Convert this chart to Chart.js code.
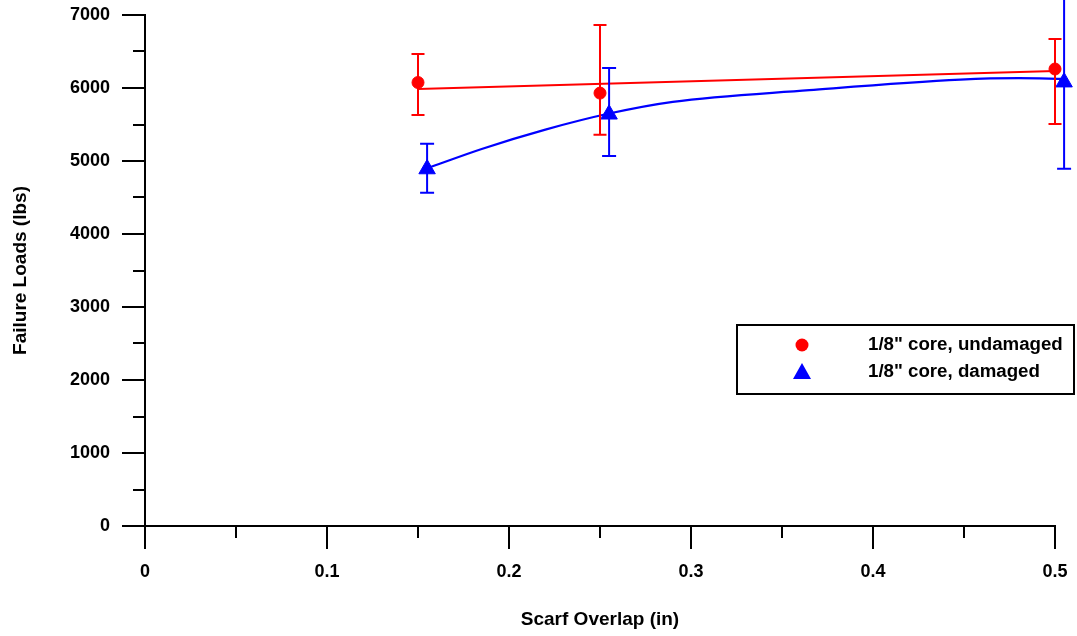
<!DOCTYPE html>
<html>
<head>
<meta charset="utf-8">
<script src="https://cdn.jsdelivr.net/npm/chart.js@4"></script>
<style>
  html, body { margin: 0; padding: 0; background: #ffffff; }
  #chart { display: block; }
</style>
</head>
<body>
<canvas id="chart" width="1077" height="636"></canvas>
<script>
// Scarf overlap vs failure load, 1/8" core
const undamagedX = [0.15, 0.25, 0.5];
const undamagedY = [6075, 5930, 6260];
const undamagedHigh = [6466, 6863, 6671];
const undamagedLow = [5630, 5360, 5507];

const damagedX = [0.155, 0.255, 0.505];
const damagedY = [4890, 5640, 6080];
const damagedHigh = [5235, 6275, 7400];
const damagedLow = [4566, 5068, 4895];

// fit curves
const undamagedFitX = [0.15, 0.5];
const undamagedFitY = [5986, 6233];
const damagedFitX = [0.155, 0.185, 0.22, 0.255, 0.29, 0.365, 0.448, 0.48, 0.505];
const damagedFitY = [4900, 5165, 5430, 5650, 5810, 5970, 6115, 6135, 6125];

const legendLabels = ['1/8" core, undamaged', '1/8" core, damaged'];
const xTitle = 'Scarf Overlap (in)';
const yTitle = 'Failure Loads (lbs)';

const RED = '#ff0000';
const BLUE = '#0000ff';
const FONT = "'Liberation Sans', Arial, sans-serif";

const toPoints = (xs, ys) => xs.map((x, i) => ({ x: x, y: ys[i] }));

// drop the label overhang padding so the plot box sits where the reference has it
function fixScale(scale, size) {
  if (scale.isHorizontal()) scale.height = size;
  else scale.width = size;
  scale.paddingTop = 0;
  scale.paddingBottom = 0;
  scale.paddingLeft = 0;
  scale.paddingRight = 0;
}

// error bars, minor/major ticks and the boxed legend
const extrasPlugin = {
  id: 'extras',
  afterDatasetsDraw(chart) {
    const ctx = chart.ctx;
    const xs = chart.scales.x;
    const ys = chart.scales.y;

    const bars = [
      { xv: undamagedX, lo: undamagedLow, hi: undamagedHigh, color: RED, cap: 6.5 },
      { xv: damagedX, lo: damagedLow, hi: damagedHigh, color: BLUE, cap: 7 }
    ];
    ctx.save();
    ctx.lineWidth = 2;
    bars.forEach(b => {
      ctx.strokeStyle = b.color;
      b.xv.forEach((xv, i) => {
        const px = xs.getPixelForValue(xv);
        const pLo = ys.getPixelForValue(b.lo[i]);
        const pHi = ys.getPixelForValue(b.hi[i]);
        ctx.beginPath();
        ctx.moveTo(px, pLo);
        ctx.lineTo(px, pHi);
        ctx.moveTo(px - b.cap, pLo);
        ctx.lineTo(px + b.cap, pLo);
        ctx.moveTo(px - b.cap, pHi);
        ctx.lineTo(px + b.cap, pHi);
        ctx.stroke();
      });
    });
    ctx.restore();
  },
  afterDraw(chart) {
    const ctx = chart.ctx;
    const xs = chart.scales.x;
    const ys = chart.scales.y;
    const area = chart.chartArea;

    ctx.save();
    ctx.strokeStyle = '#000000';
    ctx.lineWidth = 2;
    ctx.beginPath();
    for (let v = 0; v <= 7000; v += 500) {
      const py = Math.round(ys.getPixelForValue(v));
      const len = v % 1000 === 0 ? 23 : 12;
      ctx.moveTo(area.left - len, py);
      ctx.lineTo(area.left, py);
    }
    for (let k = 0; k <= 10; k++) {
      const px = Math.round(xs.getPixelForValue(k * 0.05));
      const len = k % 2 === 0 ? 23 : 12;
      ctx.moveTo(px, area.bottom);
      ctx.lineTo(px, area.bottom + len);
    }
    ctx.stroke();

    // legend box
    ctx.lineWidth = 2;
    ctx.strokeRect(737, 325, 337, 69);
    ctx.fillStyle = RED;
    ctx.beginPath();
    ctx.arc(802, 345, 6.5, 0, Math.PI * 2);
    ctx.fill();
    ctx.fillStyle = BLUE;
    ctx.beginPath();
    ctx.moveTo(802, 363);
    ctx.lineTo(811, 379);
    ctx.lineTo(793, 379);
    ctx.closePath();
    ctx.fill();

    ctx.fillStyle = '#000000';
    ctx.font = 'bold 18.7px ' + FONT;
    ctx.textAlign = 'left';
    ctx.textBaseline = 'middle';
    ctx.fillText(legendLabels[0], 868, 345);
    ctx.fillText(legendLabels[1], 868, 372);
    ctx.restore();
  }
};

new Chart(document.getElementById('chart'), {
  type: 'scatter',
  data: {
    datasets: [
      {
        label: 'undamaged fit',
        data: toPoints(undamagedFitX, undamagedFitY),
        showLine: true,
        borderColor: RED,
        borderWidth: 2.2,
        pointRadius: 0
      },
      {
        label: 'damaged fit',
        data: toPoints(damagedFitX, damagedFitY),
        showLine: true,
        borderColor: BLUE,
        borderWidth: 2.2,
        cubicInterpolationMode: 'monotone',
        pointRadius: 0
      },
      {
        label: legendLabels[0],
        data: toPoints(undamagedX, undamagedY),
        pointStyle: 'circle',
        pointRadius: 6,
        backgroundColor: RED,
        borderColor: RED,
        borderWidth: 1
      },
      {
        label: legendLabels[1],
        data: toPoints(damagedX, damagedY),
        pointStyle: 'triangle',
        pointRadius: 9.5,
        backgroundColor: BLUE,
        borderColor: BLUE,
        borderWidth: 1
      }
    ]
  },
  plugins: [extrasPlugin],
  options: {
    responsive: false,
    animation: false,
    clip: false,
    layout: { padding: { left: 0, top: 15, right: 22, bottom: 0 } },
    plugins: {
      legend: { display: false },
      tooltip: { enabled: false }
    },
    scales: {
      x: {
        type: 'linear',
        min: 0,
        max: 0.5,
        afterFit: (scale) => fixScale(scale, 110),
        grid: { display: false, drawTicks: false },
        border: { display: true, color: '#000000', width: 2 },
        ticks: {
          stepSize: 0.1,
          padding: 35,
          color: '#000000',
          font: { family: FONT, size: 18, weight: 'bold' },
          callback: (v) => String(+v.toFixed(1))
        },
        title: {
          display: true,
          text: xTitle,
          color: '#000000',
          font: { family: FONT, size: 19, weight: 'bold' },
          padding: { top: 0, bottom: 5 }
        }
      },
      y: {
        type: 'linear',
        min: 0,
        max: 7000,
        afterFit: (scale) => fixScale(scale, 145),
        grid: { display: false, drawTicks: false },
        border: { display: true, color: '#000000', width: 2 },
        ticks: {
          stepSize: 1000,
          padding: 35,
          color: '#000000',
          font: { family: FONT, size: 18, weight: 'bold' },
          callback: (v) => String(v)
        },
        title: {
          display: true,
          text: yTitle,
          color: '#000000',
          font: { family: FONT, size: 19, weight: 'bold' },
          padding: { top: 9, bottom: 0 }
        }
      }
    }
  }
});
</script>
</body>
</html>
